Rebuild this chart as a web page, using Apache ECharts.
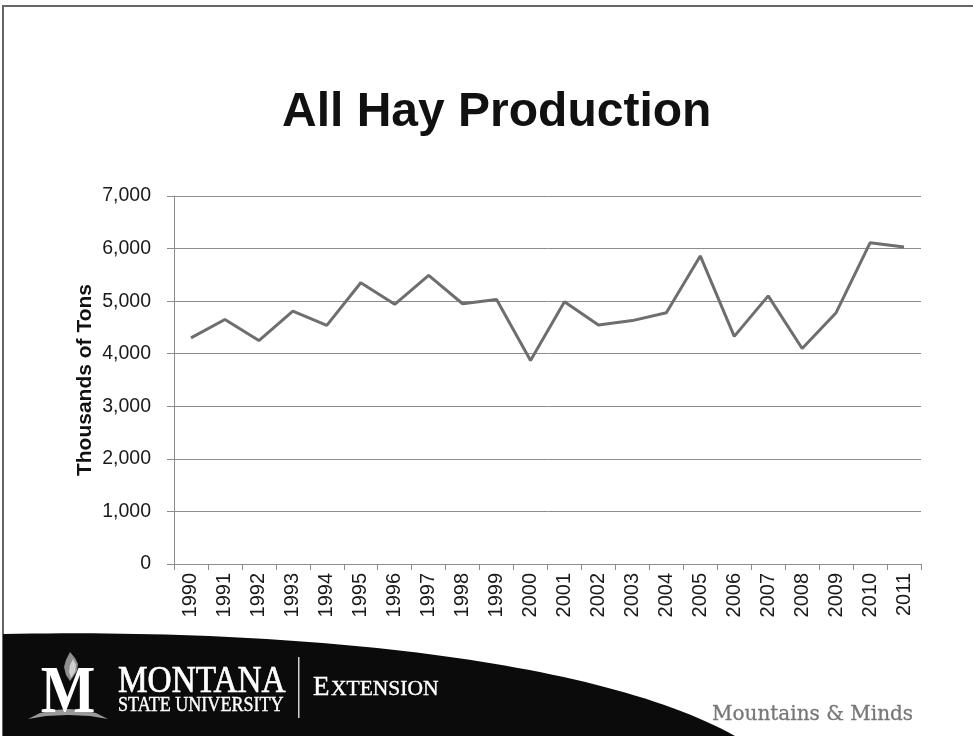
<!DOCTYPE html>
<html>
<head>
<meta charset="utf-8">
<script src="https://cdn.jsdelivr.net/npm/echarts@6/dist/echarts.min.js"></script>
<style>
  html, body { margin: 0; padding: 0; background: #fff; }
  #chart { width: 973px; height: 736px; }
</style>
</head>
<body>
<div id="chart"></div>
<script>
// Montana all-hay production, thousands of tons
const years = ['1990','1991','1992','1993','1994','1995','1996','1997','1998','1999','2000',
               '2001','2002','2003','2004','2005','2006','2007','2008','2009','2010','2011'];
const production = [4300, 4650, 4250, 4810, 4540, 5350, 4940, 5490, 4950, 5030, 3870,
                     4990, 4545, 4630, 4780, 5860, 4330, 5100, 4100, 4780, 6110, 6030];
const yTicks = [0, 1000, 2000, 3000, 4000, 5000, 6000, 7000];

const chart = echarts.init(document.getElementById('chart'), null, { renderer: 'canvas' });

// Footer band: dark sweep whose upper edge is a cubic curve
function footerBand() {
  const p0 = [3, 634], p1 = [300, 628], p2 = [600, 660], p3 = [735, 736];
  const pts = [];
  for (let i = 0; i <= 60; i++) {
    const t = i / 60, u = 1 - t;
    pts.push([
      u*u*u*p0[0] + 3*u*u*t*p1[0] + 3*u*t*t*p2[0] + t*t*t*p3[0],
      u*u*u*p0[1] + 3*u*u*t*p1[1] + 3*u*t*t*p2[1] + t*t*t*p3[1]
    ]);
  }
  pts.push([3, 736]);
  return pts;
}

const serif = '"Liberation Serif", "DejaVu Serif", serif';
const sans = '"Liberation Sans", Arial, sans-serif';

chart.setOption({
  backgroundColor: '#ffffff',
  animation: false,
  title: {
    text: 'All Hay Production',
    left: 277,
    top: 84,
    textStyle: { fontFamily: sans, fontSize: 48, fontWeight: 'bold', color: '#111' }
  },
  grid: { left: 174, right: 52, top: 196, bottom: 172, containLabel: false },
  xAxis: {
    type: 'category',
    data: years,
    boundaryGap: true,
    axisLine: { show: true, lineStyle: { color: '#8c8c8c', width: 1 } },
    axisTick: { show: true, length: 6, alignWithLabel: false, lineStyle: { color: '#8c8c8c' } },
    axisLabel: { interval: 0, rotate: 90, margin: 9, fontFamily: sans, fontSize: 20, color: '#1a1a1a' },
    splitLine: { show: false }
  },
  yAxis: {
    type: 'value',
    min: yTicks[0],
    max: yTicks[yTicks.length - 1],
    interval: 1000,
    name: 'Thousands of Tons',
    nameLocation: 'middle',
    nameRotate: 90,
    nameGap: 78,
    nameMoveOverlap: false,
    nameTextStyle: { fontFamily: sans, fontSize: 21, fontWeight: 'bold', color: '#111' },
    axisLine: { show: true, lineStyle: { color: '#8c8c8c', width: 1 } },
    axisTick: { show: true, length: 7, inside: false, lineStyle: { color: '#8c8c8c' } },
    axisLabel: {
      margin: 23, fontFamily: sans, fontSize: 19.5, color: '#1a1a1a',
      formatter: v => v.toLocaleString('en-US')
    },
    splitLine: { show: true, lineStyle: { color: '#8c8c8c', width: 1 } }
  },
  series: [{
    type: 'line',
    data: production,
    symbol: 'none',
    smooth: false,
    lineStyle: { color: '#6e6e6e', width: 3 }
  }],
  graphic: [
    // page frame
    { type: 'rect', shape: { x: 2, y: 5, width: 980, height: 2 }, style: { fill: '#666' }, silent: true },
    { type: 'rect', shape: { x: 2, y: 5, width: 2, height: 740 }, style: { fill: '#666' }, silent: true },
    // footer band
    { type: 'polygon', shape: { points: footerBand() }, style: { fill: '#0b0b0b' }, silent: true },
    // logo: pedestal arc
    { type: 'polygon', shape: { points: [[28,719],[40,713],[55,710],[68,709],[82,710],[96,713],[108,719],[90,716],[68,715],[46,716]] },
      style: { fill: '#9a9a9a' }, silent: true },
    // logo: M
    { type: 'text', x: 68, y: 694, scaleX: 0.85,
      style: { text: 'M', fontFamily: serif, fontWeight: 'bold', fontSize: 68, fill: '#ffffff', align: 'center', verticalAlign: 'middle' },
      silent: true },
    // logo: flame
    { type: 'polygon', shape: { points: [[70,652],[75,658],[78,664],[77,671],[73,677],[70,681],[66,675],[64,667],[66,660]] },
      style: { fill: '#8f8f8f' }, silent: true },
    { type: 'polygon', shape: { points: [[73,659],[76,665],[75,672],[71,678],[69,672],[70,665]] },
      style: { fill: '#cfcfcf' }, silent: true },
    // wordmark
    { type: 'text', x: 118, y: 682, scaleX: 0.9,
      style: { text: 'MONTANA', fontFamily: serif, fontSize: 37, fill: '#ffffff', stroke: '#ffffff', lineWidth: 0.7,
               align: 'left', verticalAlign: 'middle' },
      silent: true },
    { type: 'text', x: 118, y: 705, scaleX: 0.86,
      style: { text: 'STATE UNIVERSITY', fontFamily: serif, fontSize: 21, fill: '#ffffff', stroke: '#ffffff', lineWidth: 0.4,
               align: 'left', verticalAlign: 'middle' },
      silent: true },
    // divider
    { type: 'rect', shape: { x: 298, y: 657, width: 1.5, height: 61 }, style: { fill: '#d0d0d0' }, silent: true },
    // EXTENSION in small caps
    { type: 'text', x: 313, y: 687.5,
      style: { text: 'E', fontFamily: serif, fontSize: 27, fill: '#ffffff', stroke: '#ffffff', lineWidth: 0.4,
               align: 'left', verticalAlign: 'middle' },
      silent: true },
    { type: 'text', x: 331, y: 689.5,
      style: { text: 'XTENSION', fontFamily: serif, fontSize: 21.5, fill: '#ffffff', stroke: '#ffffff', lineWidth: 0.4,
               align: 'left', verticalAlign: 'middle' },
      silent: true },
    // tagline
    { type: 'text', x: 712, y: 714.5,
      style: { text: 'Mountains & Minds', fontFamily: '"DejaVu Serif", serif', fontSize: 20, fill: '#777777',
               stroke: '#777777', lineWidth: 0.3, align: 'left', verticalAlign: 'middle' },
      silent: true }
  ]
});
</script>
</body>
</html>
